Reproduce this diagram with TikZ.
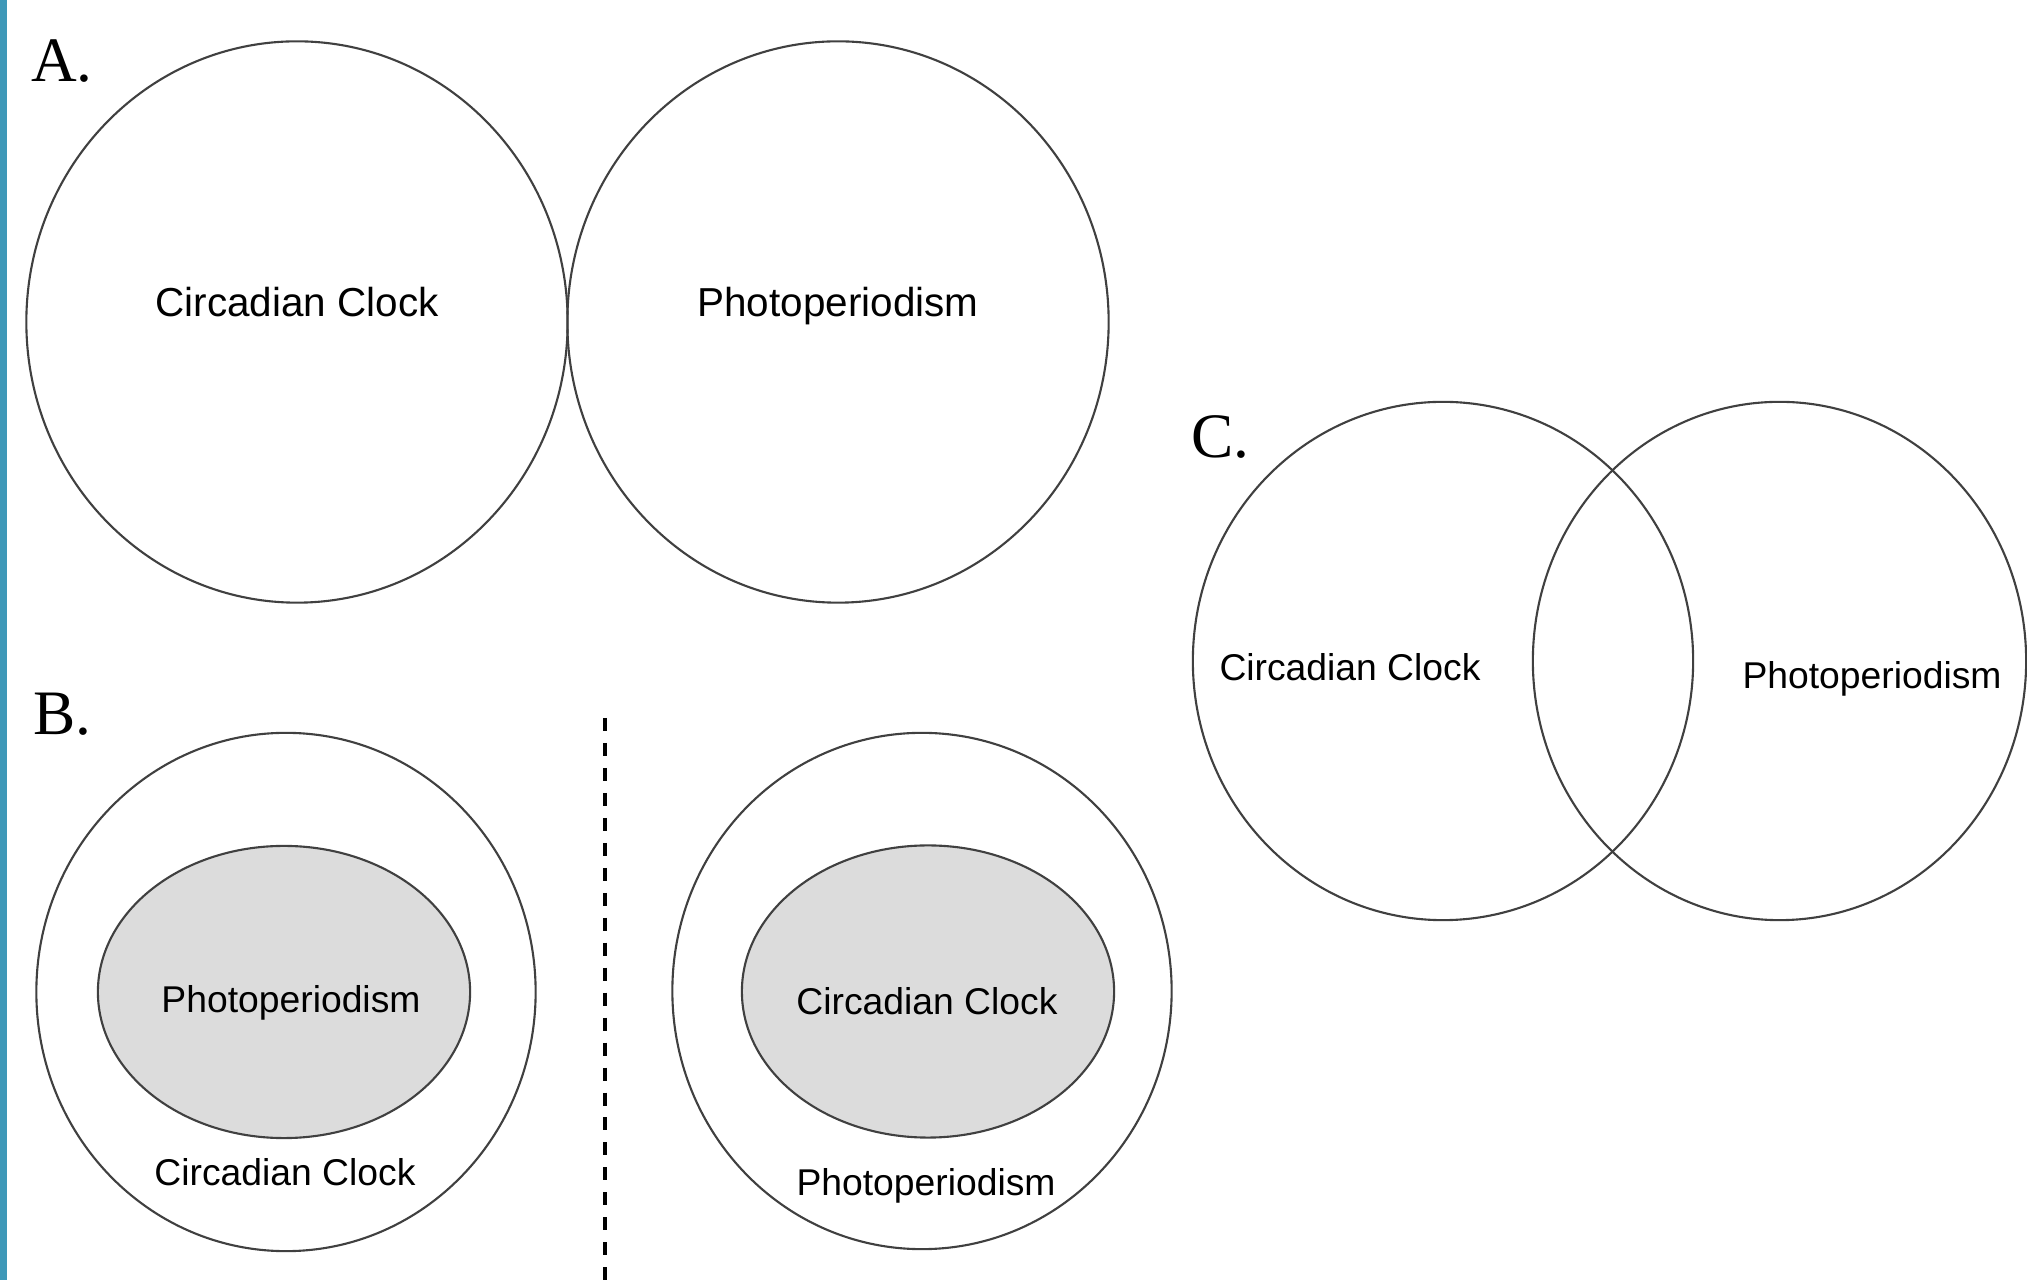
\documentclass[tikz,border=0pt]{standalone}
\usepackage{fontspec}
\setmainfont{Liberation Serif}
\newfontfamily\arialfont{Liberation Sans}
\usetikzlibrary{shapes.geometric}
\definecolor{barblue}{RGB}{62,152,184}
\definecolor{coregray}{RGB}{220,220,220}
\begin{document}
\begin{tikzpicture}[x=0.01cm, y=-0.01cm, line width=0.6pt, draw=black!75,
	ring/.style	= {ellipse, draw, inner sep=0pt},
	core/.style	= {ellipse, draw, fill=coregray, inner sep=0pt, minimum width=3.72cm, minimum height=2.92cm},
	big/.style	= {font=\arialfont\fontsize{11.5}{13}\selectfont, anchor=base, inner sep=0pt},
	small/.style	= {font=\arialfont\fontsize{10.6}{12}\selectfont, anchor=base, inner sep=0pt},
	part/.style	= {font=\fontsize{18}{20}\selectfont, anchor=base west, inner sep=0pt}]
	\useasboundingbox (0,0) rectangle (2027,1280);
	\fill[barblue] (0,0) rectangle (7,1280);

	% A.
	\node (LA) at (30, 82)		[part]	{A.};
	\node (A1) at ( 297, 322)	[ring, minimum width=5.41cm, minimum height=5.61cm]	{};
	\node (A2) at ( 838, 322)	[ring, minimum width=5.41cm, minimum height=5.61cm]	{};
	\node (A1t) at ( 297, 317)	[big]	{Circadian Clock};
	\node (A2t) at ( 838, 317)	[big]	{Photoperiodism};

	% B.
	\node (LB) at (32, 735)		[part]	{B.};
	\node (B1) at ( 286, 992)	[ring, minimum width=4.99cm, minimum height=5.18cm]	{};
	\node (B1c) at ( 284, 992)	[core]	{};
	\node (B1i) at ( 291, 1013)	[small]	{Photoperiodism};
	\node (B1o) at ( 285, 1186)	[small]	{Circadian Clock};
	\node (B2) at ( 922, 991)	[ring, minimum width=4.99cm, minimum height=5.16cm]	{};
	\node (B2c) at ( 928, 991.5)	[core]	{};
	\node (B2i) at ( 927, 1015)	[small]	{Circadian Clock};
	\node (B2o) at ( 926, 1196)	[small]	{Photoperiodism};
	\coordinate (Dtop) at (605, 718);
	\coordinate (Dbot) at (605, 1280);
	\draw[black, line width=1.2pt, dash pattern=on 3.7pt off 3.4pt] (Dtop) -- (Dbot);

	% C.
	\node (LC) at (1190, 458)	[part]	{C.};
	\node (C1) at (1443, 661)	[ring, minimum width=5.00cm, minimum height=5.18cm]	{};
	\node (C2) at (1779.5, 661)	[ring, minimum width=4.93cm, minimum height=5.18cm]	{};
	\node (C1t) at (1350, 681)	[small]	{Circadian Clock};
	\node (C2t) at (1872, 689)	[small]	{Photoperiodism};
\end{tikzpicture}
\end{document}
